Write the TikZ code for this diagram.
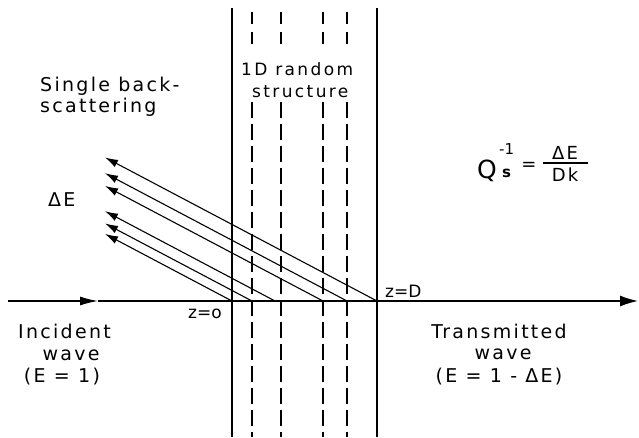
\documentclass[tikz,border=0pt]{standalone}
\usepackage{fontspec}
\setmainfont{DejaVu Sans}
\newfontfamily\lbl[LetterSpace=12]{DejaVu Sans}
\newfontfamily\lblw[LetterSpace=14]{DejaVu Sans}
\newfontfamily\plain{DejaVu Sans}
\usetikzlibrary{arrows.meta}
\begin{document}
\begin{tikzpicture}[x=1pt,y=-1pt,
  txt/.style={font=\lbl\fontsize{19}{22}\selectfont, inner sep=0pt, anchor=base west},
  ctxt/.style={txt, anchor=base},
  stxt/.style={font=\lblw\fontsize{17}{20}\selectfont, inner sep=0pt, anchor=base west},
  ztxt/.style={font=\plain\fontsize{17}{20}\selectfont, inner sep=0pt},
  ftxt/.style={font=\lbl\fontsize{18}{20}\selectfont, inner sep=0pt, anchor=base},
  wall/.style={line width=2.3pt},
  layer/.style={line width=1.2pt, dash pattern=on 16pt off 6pt},
  layertop/.style={line width=1.2pt, dash pattern=on 12pt off 8pt},
  ray/.style={line width=1.1pt, -{Latex[length=13pt,width=8pt]}},
  axis/.style={line width=1.4pt}]
\path[fill=white] (0,0) rectangle (639,438);
\useasboundingbox (0,0) rectangle (639,438);

% walls
\coordinate (wLt) at (232,8);   \coordinate (wLb) at (232,437);
\coordinate (wRt) at (377,8);   \coordinate (wRb) at (377,437);
\draw[wall] (wLt) -- (wLb);
\draw[wall] (wRt) -- (wRb);

% dashed layers
\foreach \i/\x in {1/252,2/281,3/323,4/347}{
  \coordinate (d\i a) at (\x,12);  \coordinate (d\i b) at (\x,48);
  \coordinate (d\i c) at (\x,102); \coordinate (d\i d) at (\x,437);
  \draw[layertop] (d\i a) -- (d\i b);
  \draw[layer] (d\i c) -- (d\i d);
}

% axis
\coordinate (ax0) at (8,301);
\coordinate (axm) at (98,301);
\coordinate (z0) at (232,301);
\coordinate (zD) at (377,301);
\coordinate (ax1) at (638,301);
\draw[axis,-{Latex[length=18pt,width=9pt]}] (ax0) -- (axm);
\draw[axis] (axm) -- (zD);
\draw[axis,-{Latex[length=18pt,width=11pt]}] (zD) -- (ax1);

% back-scattered rays
\foreach \i/\x/\y in {1/377/157.4,2/347/173.2,3/323/185.9,4/275/211.2,5/252/223.4,6/232/233.9}{
  \coordinate (s\i) at (\x,301);
  \coordinate (t\i) at (105,\y);
  \draw[ray] (s\i) -- (t\i);
}

% labels
\node[txt] (single) at (40,92) {Single back-};
\node[txt] (scat) at (40,113) {scattering};
\node[txt] (dE) at (48,207) {ΔE};
\node[stxt] (rand1) at (241,76) {1D random};
\node[stxt] (rand2) at (252,98) {structure};
\node[txt] (inc) at (18,338) {Incident};
\node[ctxt] (incw) at (71,360) {wave};
\node[ctxt] (incE) at (62,382) {(E = 1)};
\node[ctxt] (trans) at (499,338) {Transmitted};
\node[ctxt] (transw) at (503,359) {wave};
\node[ctxt] (transE) at (499,382) {(E = 1 - ΔE)};
\node[ztxt, anchor=base east] (zl) at (222,318) {z=o};
\node[ztxt, anchor=base west] (zr) at (385,297) {z=D};

% formula
\node[font=\plain\fontsize{25}{28}\selectfont, inner sep=0pt, anchor=base west] (Q) at (477,179) {Q};
\node[font=\plain\fontsize{15}{17}\selectfont, inner sep=0pt, anchor=base west] (Qsup) at (499,155) {-1};
\node[font=\plain\bfseries\fontsize{15}{17}\selectfont, inner sep=0pt, anchor=base west] (Qsub) at (502,178) {s};
\node[font=\plain\fontsize{18}{20}\selectfont, inner sep=0pt] (eq) at (529,166) {=};
\node[ftxt] (num) at (565,160) {ΔE};
\node[ftxt] (den) at (565,182) {Dk};
\coordinate (fl) at (543,163); \coordinate (fr) at (588,163);
\draw[line width=1.1pt] (fl) -- (fr);
\end{tikzpicture}
\end{document}
